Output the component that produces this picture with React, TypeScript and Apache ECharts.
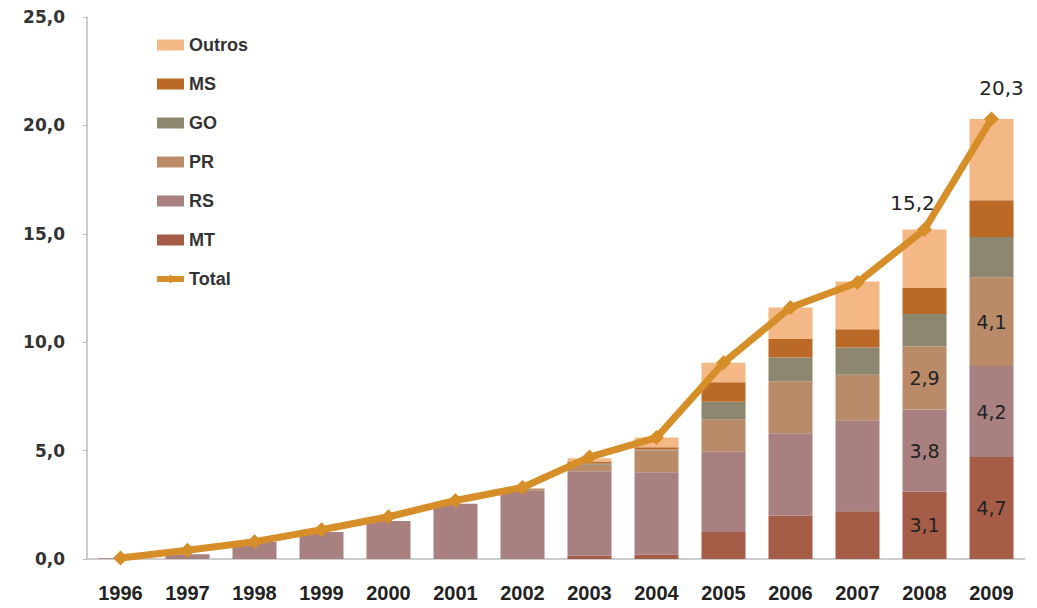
import React, { useEffect, useRef } from "react";
import * as echarts from "echarts";

const years = ["1996","1997","1998","1999","2000","2001","2002","2003","2004","2005","2006","2007","2008","2009"];
const mt =     [0,    0,    0,   0,    0,    0,    0,   0.15, 0.2,  1.25, 2.0,  2.2,  3.1, 4.7];
const rs =     [0.03, 0.22, 0.8, 1.25, 1.75, 2.55, 3.15, 3.9, 3.8,  3.7,  3.8,  4.2,  3.8, 4.2];
const pr =     [0,    0,    0,   0,    0,    0,    0.1, 0.3,  1.0,  1.5,  2.4,  2.1,  2.9, 4.1];
const go =     [0,    0,    0,   0,    0,    0,    0,   0.05, 0.05, 0.8,  1.1,  1.25, 1.5, 1.85];
const ms =     [0,    0,    0,   0,    0,    0,    0,   0.1,  0.1,  0.9,  0.85, 0.85, 1.2, 1.7];
const outros = [0,    0,    0,   0,    0,    0,    0,   0.15, 0.45, 0.9,  1.45, 2.2,  2.7, 3.75];
const total =  [0.05, 0.4, 0.8, 1.35, 1.95, 2.7, 3.3, 4.7, 5.6, 9.05, 11.6, 12.75, 15.2, 20.3];

// which bars carry a value label (year indices)
const labelledYears = [12, 13];

const fmt = (v: number) => v.toFixed(1).replace(".", ",");

export default function App() {
  const ref = useRef<HTMLDivElement>(null);
  useEffect(() => {
    if (!ref.current) return;
    const chart = echarts.init(ref.current, null, { renderer: "svg" });
    const barLabel = {
      show: true,
      position: "inside" as const,
      color: "#222",
      fontFamily: "DejaVu Sans",
      fontSize: 19,
      formatter: (p: any) => fmt(p.value),
    };
    const mkBar = (name: string, vals: number[], color: string, labelled: boolean) => ({
      name,
      type: "bar",
      stack: "s",
      barWidth: 44,
      itemStyle: { color },
      data: vals.map((v, i) =>
        labelled && labelledYears.includes(i) ? { value: v, label: barLabel } : v
      ),
    });
    const lineLabel = (offset: number[]) => ({
      show: true,
      position: "top",
      offset,
      fontFamily: "DejaVu Sans",
      fontSize: 20,
      color: "#222",
      formatter: (p: any) => fmt(p.value),
    });
    chart.setOption({
      animation: false,
      backgroundColor: "#fff",
      grid: { left: 87, right: 12, top: 17, bottom: 49, containLabel: false },
      legend: {
        orient: "vertical",
        left: 149,
        top: 31,
        itemWidth: 27,
        itemHeight: 11,
        itemGap: 21,
        textStyle: { fontFamily: "Liberation Sans", fontSize: 18, fontWeight: "bold", color: "#333" },
        data: [
          { name: "Outros", icon: "rect" },
          { name: "MS", icon: "rect" },
          { name: "GO", icon: "rect" },
          { name: "PR", icon: "rect" },
          { name: "RS", icon: "rect" },
          { name: "MT", icon: "rect" },
          { name: "Total", lineStyle: { width: 6 } },
        ],
      },
      xAxis: {
        type: "category",
        data: years,
        axisLine: { lineStyle: { color: "#BDBDBD", width: 1.5 } },
        axisTick: { show: false },
        axisLabel: {
          margin: 24,
          fontFamily: "Liberation Sans",
          fontWeight: "bold",
          fontSize: 20,
          color: "#222",
        },
      },
      yAxis: {
        type: "value",
        min: 0,
        max: 25,
        interval: 5,
        splitLine: { show: false },
        axisLine: { show: true, lineStyle: { color: "#BDBDBD", width: 1.5 } },
        axisTick: { show: true, length: 4, lineStyle: { color: "#BDBDBD" } },
        axisLabel: {
          margin: 22,
          fontFamily: "DejaVu Sans",
          fontWeight: "bold",
          fontSize: 17,
          color: "#333",
          formatter: (v: number) => fmt(v),
        },
      },
      series: [
        mkBar("MT", mt, "#A65D47", true),
        mkBar("RS", rs, "#A88080", true),
        mkBar("PR", pr, "#B98B69", true),
        mkBar("GO", go, "#8E876F", false),
        mkBar("MS", ms, "#BA6A26", false),
        mkBar("Outros", outros, "#F3B886", false),
        {
          name: "Total",
          type: "line",
          z: 5,
          symbol: "diamond",
          symbolSize: 15,
          lineStyle: { color: "#D68E28", width: 7 },
          itemStyle: { color: "#D68E28" },
          data: total.map((v, i) => {
            if (i === 12) return { value: v, label: lineLabel([-12, -4]) };
            if (i === 13) return { value: v, label: lineLabel([10, -8]) };
            return v;
          }),
        },
      ],
    });
    return () => chart.dispose();
  }, []);
  return (
    <div
      ref={ref}
      style={{ position: "fixed", left: 0, top: 0, width: 1037, height: 608 }}
    />
  );
}
